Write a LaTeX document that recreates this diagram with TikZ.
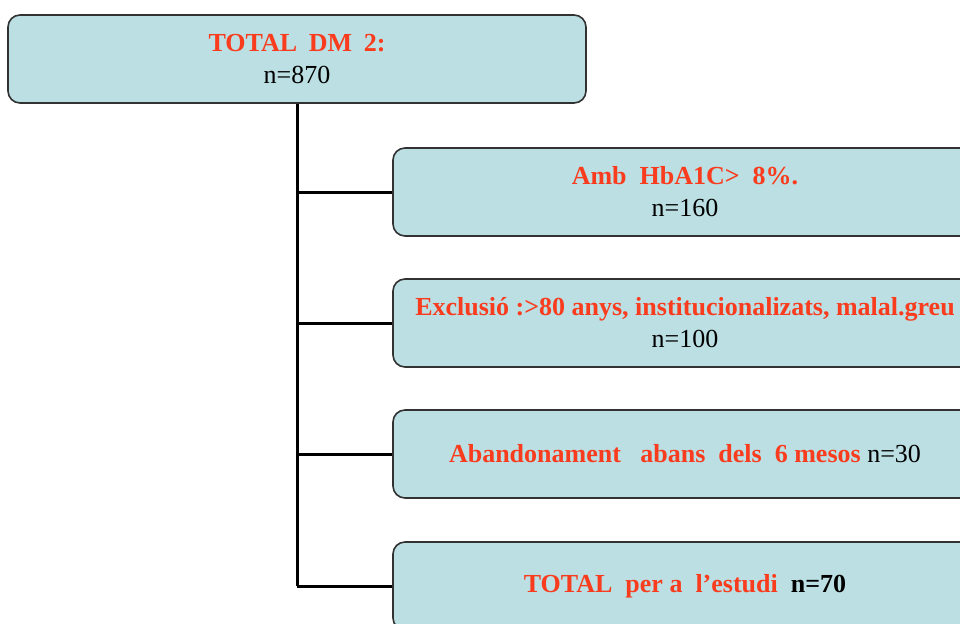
\documentclass[tikz,border=0pt]{standalone}
\usepackage{fontspec}
\setmainfont{Liberation Serif}
\usepackage{tikz}
\usetikzlibrary{positioning}
\definecolor{boxfill}{RGB}{187,223,226}
\definecolor{boxline}{RGB}{50,50,50}
\definecolor{titlered}{RGB}{250,60,30}

\begin{document}
\begin{tikzpicture}[x=0.5pt,y=-0.5pt,
    box/.style={draw=boxline,line width=0.8pt,fill=boxfill,rounded corners=6pt,
      align=center,font=\fontsize{13}{16}\selectfont,inner sep=0pt},
    topbox/.style={box,minimum width=289pt,minimum height=44pt},
    stagebox/.style={box,minimum width=292pt,minimum height=44pt},
    trunk/.style={line width=1.5pt}]
    \useasboundingbox (0,0) rectangle (960,623);
    \clip (0,0) rectangle (960,623);
    \node [topbox] (total) at (297,59)
      {\textcolor{titlered}{\textbf{TOTAL\hspace{0.45em}DM\hspace{0.45em}2:}}\\n=870};
    \node [stagebox] (hba) at (685,192)
      {\textcolor{titlered}{\textbf{Amb\ \ HbA1C>\ \ 8\%.}}\\n=160};
    \node [stagebox] (excl) at (685,323)
      {\textcolor{titlered}{\textbf{Exclusió :>80 anys, institucionalizats, malal.greu}}\\n=100};
    \node [stagebox] (aband) at (685,454)
      {\textcolor{titlered}{\textbf{Abandonament\ \ \ abans\ \ dels\ \ 6 mesos}} n=30};
    \node [stagebox] (estudi) at (685,586)
      {\textcolor{titlered}{\textbf{TOTAL\ \ per a\ \ l'estudi}}\ \ \textbf{n=70}};
    % tronc i branques
    \draw [trunk] (total.south) -- (total.south |- estudi.west);
    \foreach \n in {hba,excl,aband,estudi}
      \draw [trunk] (total.south |- \n.west) -- (\n.west);
  \end{tikzpicture}
\end{document}
